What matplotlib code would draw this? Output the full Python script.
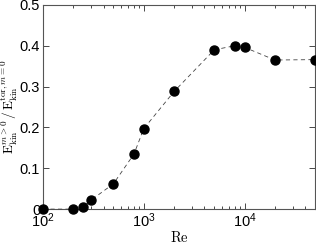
import matplotlib
matplotlib.use("Agg")
import matplotlib.pyplot as plt
from matplotlib.ticker import FixedLocator, FixedFormatter, LogLocator

plt.rcParams['font.family'] = ['Liberation Sans', 'DejaVu Sans']
plt.rcParams['mathtext.fontset'] = 'cm'

# data
re_vals = [100, 200, 250, 300, 500, 800, 1000, 2000, 5000, 8000, 10000, 20000, 50000]
ratio = [0.0, 0.0, 0.005, 0.022, 0.062, 0.135, 0.197, 0.288, 0.390, 0.400, 0.396, 0.365, 0.366]
y_ticks = [0, 0.1, 0.2, 0.3, 0.4, 0.5]
y_labels = ['0', '0.1', '0.2', '0.3', '0.4', '0.5']

fig = plt.figure(figsize=(3.16, 2.44), dpi=100)
ax = fig.add_axes([0.136, 0.143, 0.861, 0.837])

ax.plot(re_vals, ratio, linestyle=(0, (5, 4)), color='#444444', linewidth=0.6,
        marker='o', markersize=6.5, markerfacecolor='black', markeredgecolor='black',
        clip_on=False, zorder=3)

ax.set_xscale('log')
ax.set_xlim(100, 50000)
ax.set_ylim(0, 0.5)
ax.yaxis.set_major_locator(FixedLocator(y_ticks))
ax.yaxis.set_major_formatter(FixedFormatter(y_labels))
ax.xaxis.set_minor_locator(LogLocator(base=10, subs=range(2, 10)))

ax.tick_params(which='both', direction='in', top=True, right=True, labelsize=10.5, pad=2)
ax.tick_params(which='major', length=4, width=0.5)
ax.tick_params(which='minor', length=2, width=0.5)
for s in ax.spines.values():
    s.set_linewidth(0.8)
    s.set_color('#555555')

ax.set_xlabel(r'$\mathrm{Re}$', fontsize=10.5, labelpad=0)
ax.set_ylabel(r'$\mathrm{E}_{\mathrm{kin}}^{m>0}\,/\,\mathrm{E}_{\mathrm{kin}}^{\mathrm{tor},m=0}$',
              fontsize=9.5, labelpad=0)

fig.savefig('out.png', dpi=100)
